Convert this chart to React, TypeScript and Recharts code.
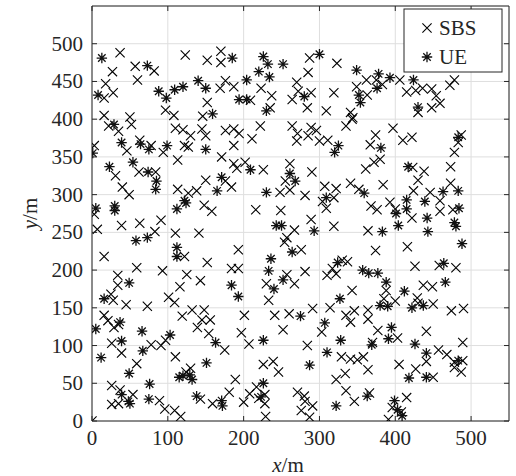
import React from 'react';
import { ScatterChart, Scatter, XAxis, YAxis, CartesianGrid, ReferenceArea } from 'recharts';

const X_TICKS = [0, 100, 200, 300, 400, 500];
const Y_TICKS = [0, 50, 100, 150, 200, 250, 300, 350, 400, 450, 500];
const X_DOMAIN: [number, number] = [0, 550];
const Y_DOMAIN: [number, number] = [0, 550];
const SERIES_NAMES = ['SBS', 'UE'];

const SBS_POINTS: [number, number][] = [
  [37,488],[27,463],[57,470],[82,464],[60,452],[18,447],[16,428],[28,435],[16,405],[50,403],[97,412],[108,405],[123,485],[152,478],[170,490],[170,475],[169,441],[176,451],[152,422],[146,404],
  [187,443],[209,425],[223,441],[237,431],[235,415],[270,449],[272,437],[264,426],[289,435],[284,415],[287,481],[285,462],[323,474],[319,435],[309,411],[341,409],
  [349,443],[362,452],[363,432],[375,452],[383,446],[406,452],[415,436],[427,438],[436,441],[448,440],[454,431],[459,421],[448,415],[430,409],[472,445],[478,452],[344,402],
  [52,393],[22,391],[35,384],[46,358],[63,372],[78,365],[94,356],[3,365],[31,325],[62,330],[84,330],[40,310],[49,300],[110,388],[120,386],[130,378],[122,365],[127,363],[145,387],[150,378],[176,385],[113,346],[171,350],[176,318],[150,319],[113,307],[127,302],[138,305],[148,286],[158,278],[3,274],[39,259],[63,262],[91,266],
  [187,387],[194,381],[187,365],[211,374],[222,391],[264,391],[271,381],[270,371],[285,378],[289,389],[296,385],[300,371],[311,372],[335,391],[343,400],[187,341],[191,335],[202,343],[226,333],[261,341],[255,318],[261,306],[290,330],[184,310],[248,303],[281,299],[307,311],[322,308],[341,315],[304,291],[319,296],[309,282],[216,280],[249,279],[289,267],[267,253],[319,258],
  [397,388],[374,379],[367,366],[410,372],[422,376],[487,379],[483,369],[478,356],[372,343],[380,347],[361,334],[423,336],[438,331],[430,319],[473,337],[352,307],[384,313],[424,305],[446,303],[473,315],[459,292],[459,278],[393,290],[400,281],[368,285],[376,280],[422,269],[476,280],[364,252],
  [7,254],[83,251],[110,249],[141,249],[122,218],[16,218],[152,210],[59,203],[93,199],[34,193],[34,180],[125,194],[143,186],[116,178],[25,168],[28,160],[45,154],[73,152],[101,164],[109,157],[16,140],[21,133],[35,128],[29,124],[119,139],[132,147],[148,147],[145,134],[156,134],[139,124],[154,116],
  [257,243],[254,237],[276,227],[193,227],[184,202],[193,202],[257,194],[281,198],[267,182],[230,182],[233,160],[310,193],[317,202],[330,213],[337,211],[322,195],[343,173],[314,150],[291,149],[201,140],[241,140],[260,142],[335,140],[341,131],[346,146],[303,118],[252,121],[197,117],
  [374,226],[416,231],[426,205],[458,206],[480,203],[388,173],[437,180],[449,178],[429,163],[385,162],[400,159],[430,156],[450,155],[474,146],[490,149],[364,147],[364,135],[377,120],[441,119],[403,110],
  [26,103],[39,90],[59,76],[78,101],[91,100],[97,107],[110,85],[124,65],[130,70],[175,94],[207,102],[226,75],[239,79],[246,65],[284,100],[329,85],[341,82],[350,81],[358,85],[364,68],[370,104],[457,94],[468,88],[489,104],[478,78],[489,80],[478,71],[487,65],[441,79],[405,75],[427,69],[450,58],[334,63],[322,55],
  [26,47],[37,41],[54,35],[26,22],[35,23],[89,27],[96,16],[109,14],[117,6],[143,29],[159,23],[181,38],[189,55],[200,25],[208,36],[217,45],[220,30],[228,35],[228,23],[229,6],[271,38],[280,33],[281,26],[291,20],[276,14],[287,5],[335,40],[346,26],[366,37],[396,18],[408,12],[391,2],[415,31],[0,0],
];

const UE_POINTS: [number, number][] = [
  [13,481],[73,471],[8,432],[88,437],[98,428],[109,439],[120,443],[140,451],[150,441],[159,407],
  [185,481],[204,452],[194,426],[204,426],[226,483],[232,473],[220,463],[234,456],[230,411],[252,473],[280,430],[300,486],
  [349,465],[352,432],[354,422],[378,460],[376,441],[393,455],[424,452],[430,416],
  [29,393],[39,369],[64,367],[75,360],[99,365],[1,355],[23,337],[54,343],[74,330],[85,318],[84,307],[150,360],[171,323],[165,305],[122,292],[124,289],[112,281],[5,282],[30,285],[30,279],
  [325,365],[320,356],[209,333],[261,328],[268,318],[230,303],[309,296],[243,259],[250,259],
  [381,362],[483,376],[417,337],[359,302],[463,304],[483,305],[439,291],[415,293],[401,275],[415,281],[442,269],[484,282],[478,263],[480,258],[404,259],[383,251],[443,251],
  [58,239],[73,243],[112,230],[112,218],[49,183],[16,162],[37,131],[5,122],[66,119],[103,114],
  [293,252],[264,224],[236,215],[233,199],[252,187],[240,175],[184,180],[193,165],[324,210],[327,162],[275,139],[307,130],[226,107],
  [488,235],[357,200],[365,196],[377,196],[464,209],[388,184],[466,184],[412,172],[380,153],[390,152],[422,150],[437,153],[395,124],[391,109],
  [39,106],[12,84],[49,63],[67,93],[115,58],[120,60],[129,61],[132,55],[151,77],[163,104],[287,74],[328,107],[310,91],[369,101],[426,102],[441,90],[483,80],[418,57],[441,58],
  [39,35],[48,26],[50,23],[76,49],[75,29],[138,33],[171,27],[172,20],[226,50],[223,32],[322,20],[363,33],[399,27],[403,15],[409,7],
];

const sbsData = SBS_POINTS.map(([x, y]) => ({ x, y }));
const ueData = UE_POINTS.map(([x, y]) => ({ x, y }));

const W = 516;
const H = 476;
const L = 92;
const T = 6;
const R = 509;
const B = 421;
const FONT = '"Liberation Serif", "Times New Roman", serif';
const INK = '#262626';
const TICK_LEN = 5;

const crossPath = (cx: number, cy: number, r: number) =>
  `M${cx - r},${cy - r}L${cx + r},${cy + r}M${cx - r},${cy + r}L${cx + r},${cy - r}`;
const starPath = (cx: number, cy: number, r: number) => {
  const d = r * 0.72;
  return `M${cx},${cy - r}L${cx},${cy + r}M${cx - r},${cy}L${cx + r},${cy}M${cx - d},${cy - d}L${cx + d},${cy + d}M${cx - d},${cy + d}L${cx + d},${cy - d}`;
};

const CrossShape = (p: any) => <path d={crossPath(p.cx, p.cy, 4.6)} stroke="#000" strokeWidth={1.1} fill="none" />;
const StarShape = (p: any) => <path d={starPath(p.cx, p.cy, 5.2)} stroke="#111" strokeWidth={1.3} fill="none" />;

const renderXTick = (props: any) => {
  const { x, payload } = props;
  return (
    <g key={`xt-${payload.value}`}>
      <line x1={x} x2={x} y1={B} y2={B - TICK_LEN} stroke={INK} strokeWidth={1} />
      <line x1={x} x2={x} y1={T} y2={T + TICK_LEN} stroke={INK} strokeWidth={1} />
      <text x={x} y={B + 24} textAnchor="middle" style={{ fontSize: 21, fontFamily: FONT, fill: INK }}>{payload.value}</text>
    </g>
  );
};

const renderYTick = (props: any) => {
  const { y, payload } = props;
  return (
    <g key={`yt-${payload.value}`}>
      <line x1={L} x2={L + TICK_LEN} y1={y} y2={y} stroke={INK} strokeWidth={1} />
      <line x1={R} x2={R - TICK_LEN} y1={y} y2={y} stroke={INK} strokeWidth={1} />
      <text x={L - 9} y={y + 7} textAnchor="end" style={{ fontSize: 21, fontFamily: FONT, fill: INK }}>{payload.value}</text>
    </g>
  );
};

export default function App() {
  return (
    <div style={{ position: 'absolute', left: 0, top: 0, width: W, height: H, background: '#fff', fontFamily: FONT }}>
      <ScatterChart width={W} height={H} margin={{ top: T, right: W - R, left: 0, bottom: 0 }}>
        <CartesianGrid stroke="#dedede" strokeWidth={1} />
        <XAxis
          type="number"
          dataKey="x"
          domain={X_DOMAIN}
          ticks={X_TICKS}
          interval={0}
          allowDataOverflow
          height={H - B}
          tick={renderXTick}
          tickLine={false}
          axisLine={false}
        />
        <YAxis
          type="number"
          dataKey="y"
          domain={Y_DOMAIN}
          ticks={Y_TICKS}
          interval={0}
          allowDataOverflow
          width={L}
          tick={renderYTick}
          tickLine={false}
          axisLine={false}
        />
        <Scatter name={SERIES_NAMES[0]} data={sbsData} shape={CrossShape} isAnimationActive={false} />
        <Scatter name={SERIES_NAMES[1]} data={ueData} shape={StarShape} isAnimationActive={false} />
        <ReferenceArea x1={X_DOMAIN[0]} x2={X_DOMAIN[1]} y1={Y_DOMAIN[0]} y2={Y_DOMAIN[1]} fill="none" stroke={INK} strokeWidth={1} ifOverflow="visible" />
      </ScatterChart>
      <svg width={W} height={H} style={{ position: 'absolute', left: 0, top: 0, pointerEvents: 'none' }}>
        <rect x={404} y={9} width={98} height={63} fill="#fff" stroke={INK} strokeWidth={1} />
        <path d={crossPath(427, 28, 4.6)} stroke="#000" strokeWidth={1.1} fill="none" />
        <text x={439} y={35} style={{ fontSize: 21, fontFamily: FONT, fill: INK }}>{SERIES_NAMES[0]}</text>
        <path d={starPath(427, 57, 5.2)} stroke="#111" strokeWidth={1.3} fill="none" />
        <text x={439} y={64} style={{ fontSize: 21, fontFamily: FONT, fill: INK }}>{SERIES_NAMES[1]}</text>
        <text x={288} y={472} textAnchor="middle" style={{ fontSize: 21, fontFamily: FONT, fill: INK }}>
          <tspan fontStyle="italic">x</tspan>
          <tspan>/m</tspan>
        </text>
        <text x={0} y={0} transform={`translate(37, ${(T + B) / 2}) rotate(-90)`} textAnchor="middle" style={{ fontSize: 21, fontFamily: FONT, fill: INK }}>
          <tspan fontStyle="italic">y</tspan>
          <tspan>/m</tspan>
        </text>
      </svg>
    </div>
  );
}
